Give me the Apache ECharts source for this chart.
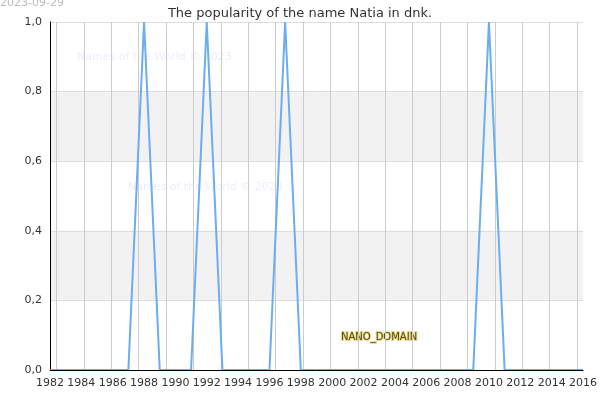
<!DOCTYPE html>
<html><head><meta charset="utf-8">
<script src="https://cdn.jsdelivr.net/npm/echarts@6/dist/echarts.min.js"></script>
<style>html,body{margin:0;padding:0}#c{width:600px;height:400px}</style>
</head><body><div id="c"></div>
<script>
const years = [];
for (let y = 1982; y <= 2016; y++) years.push(y);
const peakYears = [1988, 1992, 1997, 2010];
const values = years.map(y => peakYears.includes(y) ? 1 : 0);
const gridCats = [];
for (let i = 0; i <= 20; i++) gridCats.push(String(i));
const chart = echarts.init(document.getElementById('c'));
const wm = {fill:'rgba(200,200,255,0.35)', fontSize:11, fontFamily:'DejaVu Sans'};
chart.setOption({
  animation:false,
  title:{text:'The popularity of the name Natia in dnk.',left:'center',top:2,
    textStyle:{fontSize:13,fontWeight:'normal',color:'#333',fontFamily:'DejaVu Sans'}},
  graphic:[
    {type:'text',left:0,top:-2,style:{text:'2023-09-29',fill:'#bbb',fontSize:11,fontFamily:'DejaVu Sans'}},
    {type:'text',left:77,top:52,style:Object.assign({text:'Names of the World © 2023'},wm)},
    {type:'text',left:128,top:182,style:Object.assign({text:'Names of the World © 2023'},wm)},
    {type:'text',left:300,top:140,style:Object.assign({text:'Names of the World © 2023'},wm)},
    {type:'text',left:340,top:331,style:{text:'NANO_DOMAIN',fill:'#5a4a00',stroke:'#e8d890',lineWidth:2,fontSize:10,fontFamily:'DejaVu Sans'}}
  ],
  grid:[{left:50,right:15,top:22,bottom:30},{left:29,right:23,top:22,bottom:30}],
  xAxis:[{type:'value',min:1982,max:2016,interval:2,gridIndex:0,
    axisLine:{show:true,lineStyle:{color:'#000'}},axisTick:{show:false},
    axisLabel:{color:'#333',fontSize:11,fontFamily:'DejaVu Sans',hideOverlap:false,
      showMinLabel:true,showMaxLabel:true,formatter:v=>String(v)},
    splitLine:{show:false},z:5},
    {type:'category',gridIndex:1,data:gridCats,boundaryGap:false,
     axisLine:{show:false},axisTick:{show:false},axisLabel:{show:false},
     splitLine:{show:true,interval:(i)=>i>0,lineStyle:{color:'#ccc'}}}],
  yAxis:[{type:'value',min:0,max:1,interval:0.2,gridIndex:0,
    axisLine:{show:true,lineStyle:{color:'#000'}},axisTick:{show:false},
    axisLabel:{color:'#333',fontSize:11,fontFamily:'DejaVu Sans',
      formatter:v=> v.toFixed(1).replace('.',',')},
    splitLine:{show:true,lineStyle:{color:'#ddd'}},
    splitArea:{show:true,areaStyle:{color:['rgba(0,0,0,0)','#f2f2f2']}}},
    {type:'value',gridIndex:1,show:false,splitLine:{show:false}}],
  series:[{type:'line',xAxisIndex:0,yAxisIndex:0,data:years.map((y,i)=>[y,values[i]]),showSymbol:false,
    lineStyle:{color:'#6aaef0',width:2},z:3}]
});
</script></body></html>
